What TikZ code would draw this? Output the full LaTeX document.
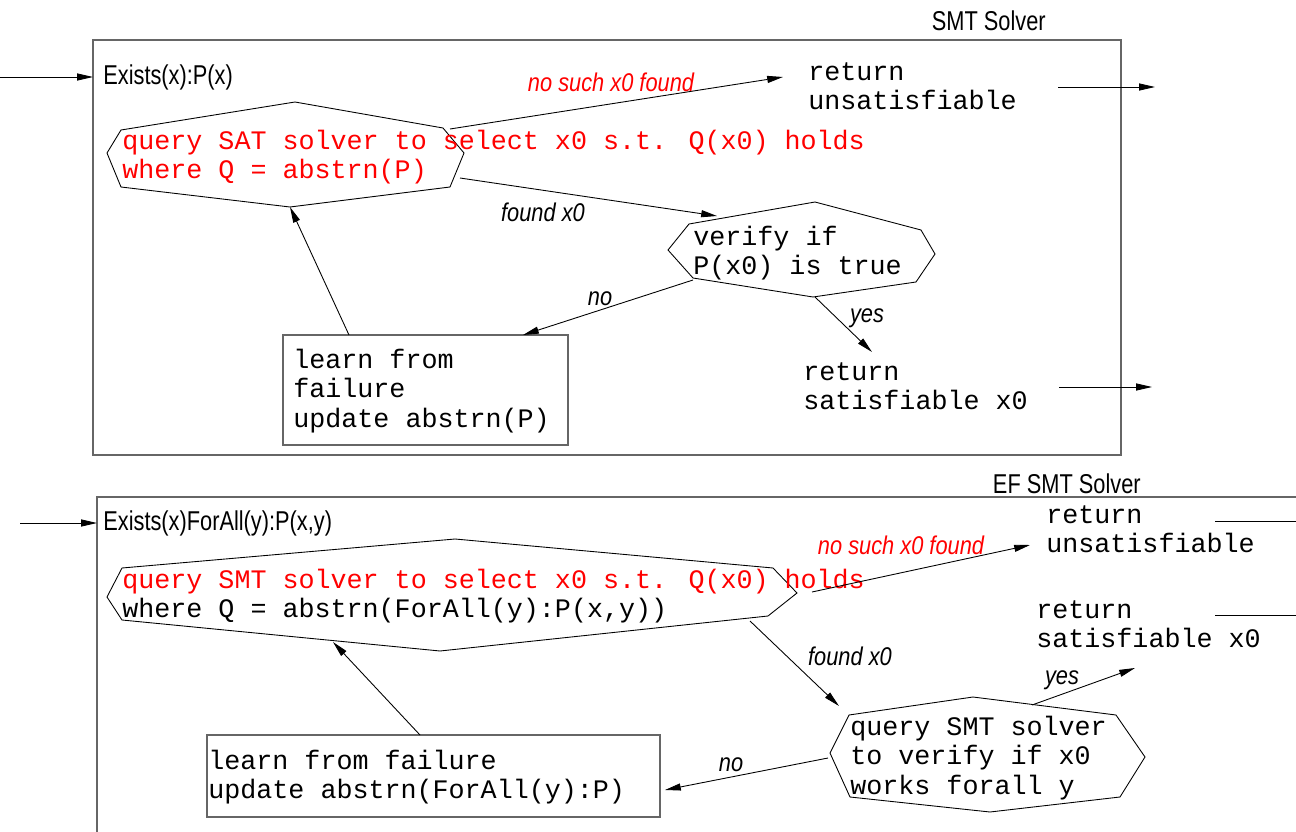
\documentclass[tikz,border=0pt]{standalone}
\usepackage{fontspec}
\usepackage{tikz}
\usetikzlibrary{arrows.meta}
\newfontfamily\codefont{Liberation Mono}
\newfontfamily\headfont[FakeStretch=0.8]{Liberation Sans}
\newfontfamily\labelfont[FakeStretch=0.85]{Liberation Sans}

\tikzset{
  code/.style={font=\codefont\fontsize{15.2pt}{16.8pt}\selectfont, align=left, anchor=west, inner sep=0pt},
  head/.style={font=\headfont\fontsize{15.5pt}{18pt}\selectfont, inner sep=0pt},
  lbl/.style={font=\labelfont\itshape\fontsize{14.6pt}{16pt}\selectfont, inner sep=0pt},
  frame/.style={draw=black!60, line width=0.7pt},
  flow/.style={-{Triangle[length=9pt,width=4pt]}, line width=0.5pt},
  poly/.style={draw, line width=0.5pt}
}

\begin{document}
\begin{tikzpicture}[x=0.02cm, y=-0.02cm]
    \clip (0,0) rectangle (1296,832);

    % SMT solver
    \node[head, anchor=east] (title1) at (1046,21) {SMT Solver};
    \draw[frame] (93,40) rectangle (1121,455);
    \coordinate (in1) at (0,77);
    \coordinate (in1end) at (93,77);
    \draw[flow] (in1) -- (in1end);
    \node[head, anchor=west] (goal1) at (103,77) {Exists(x):P(x)};

    \draw[poly] (107,153) -- (121,130) -- (295,102) -- (443,128) -- (464,153)
        -- (450,187) -- (290,207) -- (121,187) -- cycle;
    \node[code] (query1) at (122,157) {\textcolor{red}{query SAT solver to select x0 s.t. Q(x0) holds}\\
        \textcolor{red}{where Q = abstrn(P)}};
    \draw[poly] (668,250) -- (689,224) -- (815,202) -- (921,230) -- (935,254)
        -- (916,282) -- (813,297) -- (693,278) -- cycle;
    \node[code] (verify1) at (693,253) {verify if\\P(x0) is true};
    \draw[frame] (283,335) rectangle (568,445);
    \node[code] (learn1) at (293,391) {learn from\\failure\\update abstrn(P)};
    \node[code] (unsat1) at (808,86) {return\\unsatisfiable};
    \node[code] (sat1) at (803,386) {return\\satisfiable x0};

    \coordinate (q1ne) at (450,129);
    \coordinate (q1se) at (460,178);
    \coordinate (q1s) at (290,207);
    \coordinate (unsat1w) at (783,77);
    \coordinate (v1n) at (717,216);
    \coordinate (v1sw) at (693,280);
    \coordinate (v1s) at (815,297);
    \coordinate (l1n) at (349,335);
    \coordinate (l1ne) at (523,335);
    \coordinate (sat1n) at (872,352);
    \draw[flow] (q1ne) -- (unsat1w);
    \draw[flow] (q1se) -- (v1n);
    \draw[flow] (v1sw) -- (l1ne);
    \draw[flow] (v1s) -- (sat1n);
    \draw[flow] (l1n) -- (q1s);
    \node[lbl, red] (nosuch1) at (611,82) {no such x0 found};
    \node[lbl] (found1) at (543,212) {found x0};
    \node[lbl] (no1) at (600,299) {no};
    \node[lbl] (yes1) at (867,318) {yes};

    \coordinate (out1a) at (1058,87);
    \coordinate (out1aend) at (1155,87);
    \coordinate (out1b) at (1059,387);
    \coordinate (out1bend) at (1152,387);
    \draw[flow] (out1a) -- (out1aend);
    \draw[flow] (out1b) -- (out1bend);

    % EF SMT solver
    \node[head, anchor=east] (title2) at (1141,484) {EF SMT Solver};
    \draw[frame] (97,497) rectangle (1320,860);
    \coordinate (in2) at (20,523);
    \coordinate (in2end) at (97,523);
    \draw[flow] (in2) -- (in2end);
    \node[head, anchor=west] (goal2) at (103,523) {Exists(x)ForAll(y):P(x,y)};

    \draw[poly] (107,597) -- (122,568) -- (455,539) -- (773,568) -- (797,593)
        -- (768,616) -- (440,651) -- (122,620) -- cycle;
    \node[code] (query2) at (122,596) {\textcolor{red}{query SMT solver to select x0 s.t. Q(x0) holds}\\
        where Q = abstrn(ForAll(y):P(x,y))};
    \draw[poly] (830,753) -- (849,715) -- (973,697) -- (1116,715) -- (1145,757)
        -- (1120,797) -- (990,812) -- (850,797) -- cycle;
    \node[code] (verify2) at (850,758) {query SMT solver\\to verify if x0\\works forall y};
    \draw[frame] (207,735) rectangle (660,817);
    \node[code] (learn2) at (208,777) {learn from failure\\update abstrn(ForAll(y):P)};
    \node[code] (unsat2) at (1046,529) {return\\unsatisfiable};
    \node[code] (sat2) at (1036,624) {return\\satisfiable x0};

    \coordinate (q2e) at (812,592);
    \coordinate (q2se) at (750,621);
    \coordinate (q2s) at (333,642);
    \coordinate (unsat2w) at (1030,545);
    \coordinate (v2nw) at (839,706);
    \coordinate (v2n) at (1032,705);
    \coordinate (v2w) at (828,758);
    \coordinate (sat2s) at (1135,668);
    \coordinate (l2e) at (665,790);
    \coordinate (l2n) at (420,735);
    \draw[flow] (q2e) -- (unsat2w);
    \draw[flow] (q2se) -- (v2nw);
    \draw[flow] (v2n) -- (sat2s);
    \draw[flow] (v2w) -- (l2e);
    \draw[flow] (l2n) -- (q2s);
    \node[lbl, red] (nosuch2) at (901,545) {no such x0 found};
    \node[lbl] (found2) at (850,656) {found x0};
    \node[lbl] (yes2) at (1062,680) {yes};
    \node[lbl] (no2) at (731,765) {no};

    \coordinate (out2a) at (1215,521);
    \coordinate (out2aend) at (1320,521);
    \coordinate (out2b) at (1215,615);
    \coordinate (out2bend) at (1320,615);
    \draw (out2a) -- (out2aend);
    \draw (out2b) -- (out2bend);
\end{tikzpicture}
\end{document}
